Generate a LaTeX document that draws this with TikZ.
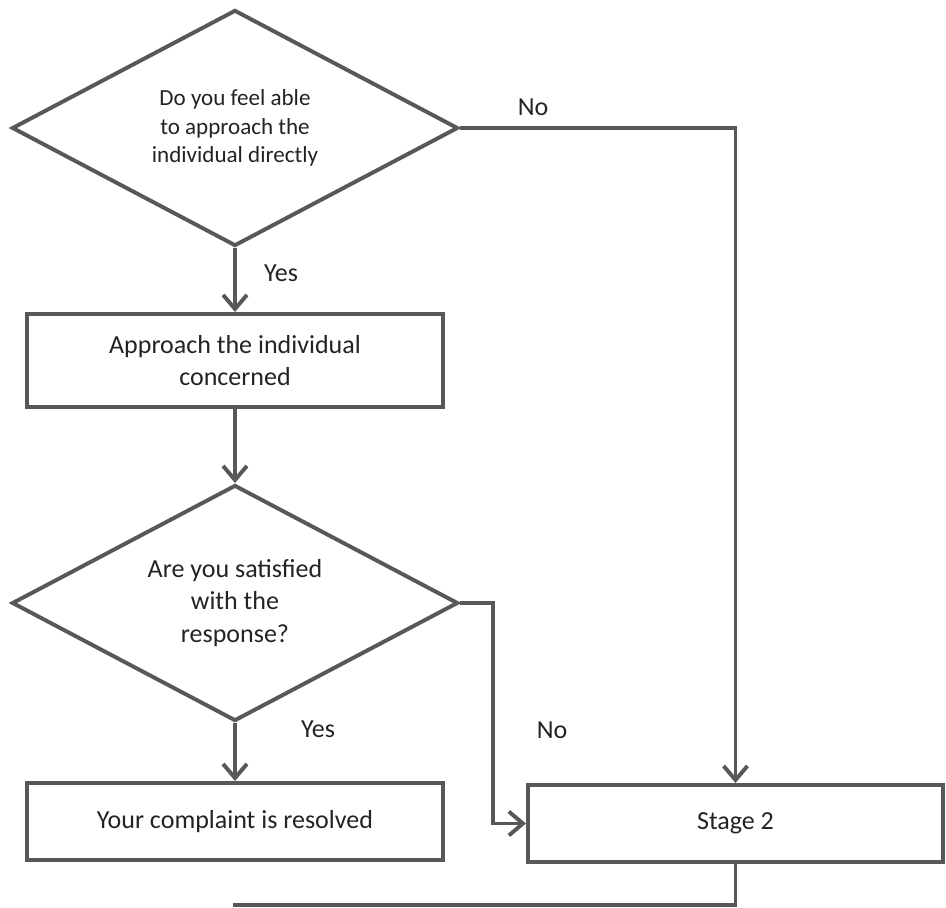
\documentclass[tikz,border=0pt]{standalone}
\usepackage{fontspec}
\setmainfont{Carlito}
\usetikzlibrary{arrows.meta, shapes.geometric}
\definecolor{flowline}{RGB}{88,88,88}
\definecolor{flowtext}{RGB}{35,35,35}
\tikzset{
  qbox/.style={diamond, draw=flowline, line width=2.8pt, aspect=1.9,
               inner sep=0pt, align=center, text=flowtext,
               minimum width=11.15cm, minimum height=5.9cm},
  sbox/.style={draw=flowline, line width=2.8pt, inner sep=0pt,
               align=center, text=flowtext, minimum width=10.4cm,
               font=\fontsize{18.5}{22.8}\selectfont},
  farr/.style={-{Straight Barb[length=10pt, width=17pt]}, draw=flowline,
               line width=2.8pt},
  fline/.style={draw=flowline, line width=2.8pt},
  flabel/.style={text=flowtext, font=\fontsize{18.5}{22.8}\selectfont},
}
\begin{document}
\begin{tikzpicture}[x=0.025cm, y=-0.025cm]
\useasboundingbox (0,0) rectangle (946,907);
% ---- left column ----
\node[qbox, font=\fontsize{16.4}{20.3}\selectfont] (ask) at (235,128)
  {Do you feel able\\ to approach the\\ individual directly};
\node[sbox, minimum height=2.325cm] (approach) at (235,360.5)
  {Approach the individual\\ concerned};
\node[qbox, font=\fontsize{18.5}{22.8}\selectfont] (satisfied) at (235,603)
  {Are you satisfied\\ with the\\ response?};
\node[sbox, minimum height=1.925cm] (resolved) at (235,821.5)
  {Your complaint is resolved};
% ---- right box ----
\node[sbox, minimum width=10.375cm, minimum height=1.925cm] (stage) at (735.5,823.5)
  {Stage 2};
% ---- bends and the loose end ----
\coordinate (elbow) at (493,603);
\coordinate (tail) at (233,905);
% ---- connectors ----
\draw[farr] (ask.south) -- (approach.north);
\draw[farr] (approach.south) -- (satisfied.north);
\draw[farr] (satisfied.south) -- (resolved.north);
\draw[farr] (ask.east) -| (stage.north);
\draw[farr] (satisfied.east) -- (elbow) |- (stage.west);
\draw[fline] (stage.south) |- (tail);
% ---- labels ----
\node[flabel] (yestop) at (281,273) {Yes};
\node[flabel] (notop) at (533,107) {No};
\node[flabel] (yesbot) at (318,729) {Yes};
\node[flabel] (nobot) at (552,730) {No};
\end{tikzpicture}
\end{document}
